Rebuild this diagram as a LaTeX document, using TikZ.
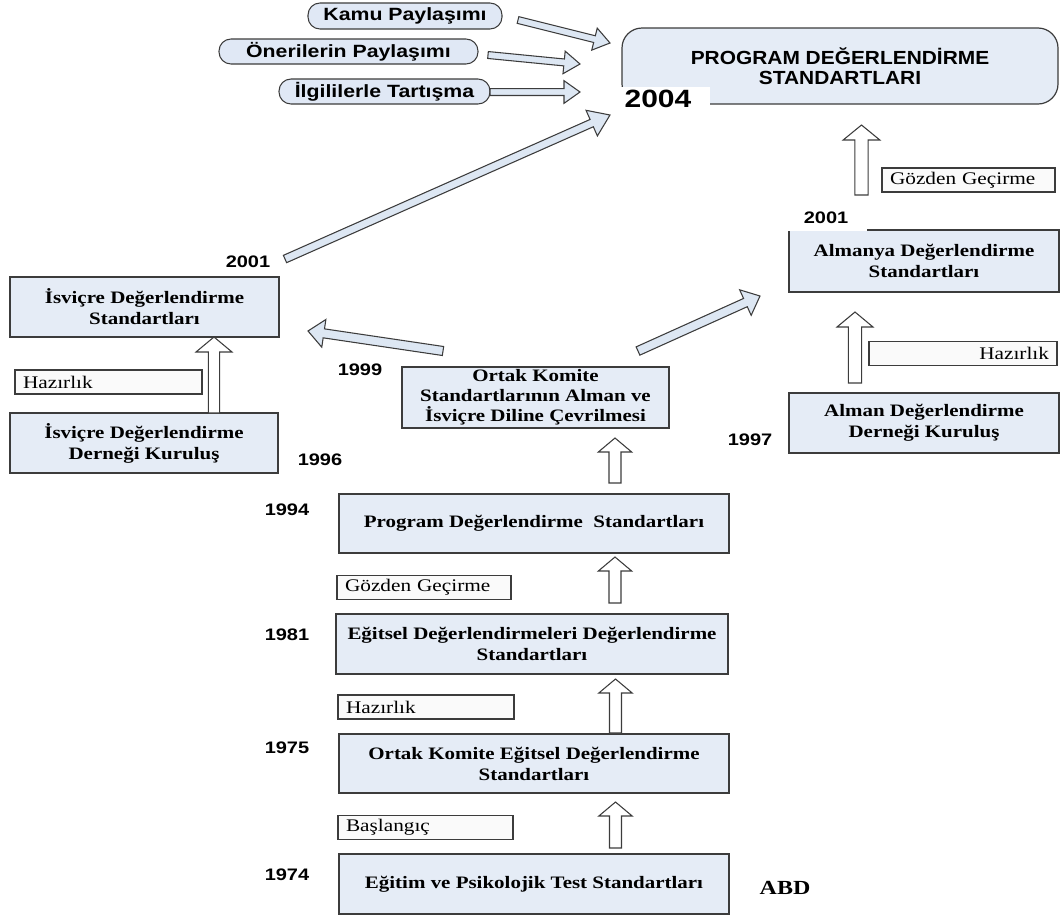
\documentclass[tikz,border=0pt]{standalone}
\usepackage{fontspec}
\setmainfont{Liberation Serif}[FakeStretch=1.2]
\newfontfamily\sansf{Liberation Sans}[FakeStretch=1.2]
\newfontfamily\titlef{Liberation Sans}[FakeStretch=1.1]
\usetikzlibrary{calc}
\definecolor{boxfill}{RGB}{229,236,246}
\definecolor{pillfill}{RGB}{224,232,245}
\definecolor{lblfill}{RGB}{250,250,250}
\definecolor{arrfill}{RGB}{221,231,243}
\definecolor{edge}{RGB}{60,60,60}
% #1 style, #2 tail, #3 tip, #4 shaft half width, #5 head half width, #6 head length
\newcommand\blockarrow[6]{%
  \path ($(#3)!#6!(#2)$) coordinate (ab);
  \filldraw[#1] ($(#2)!#4!90:(#3)$) -- ($(ab)!#4!90:(#3)$) -- ($(ab)!#5!90:(#3)$) -- (#3)
    -- ($(ab)!#5!-90:(#3)$) -- ($(ab)!#4!-90:(#3)$) -- ($(#2)!#4!-90:(#3)$) -- cycle;}
\begin{document}
\begin{tikzpicture}[x=0.75pt,y=-0.75pt,
  bx/.style={draw=edge, fill=boxfill, line width=0.9pt, inner sep=0pt, align=center,
    font=\bfseries\fontsize{13.1}{15.75}\selectfont},
  lbl/.style={draw=edge, fill=lblfill, line width=0.8pt, inner xsep=6pt, inner ysep=0pt,
    minimum height=18pt, font=\fontsize{13.3}{15}\selectfont},
  pill/.style={draw=edge, fill=pillfill, line width=0.8pt, rounded corners=9pt, inner sep=0pt,
    font=\sansf\bfseries\fontsize{13.3}{15}\selectfont},
  yr/.style={inner sep=0pt, font=\sansf\bfseries\fontsize{12.5}{14}\selectfont},
  varr/.style={draw=edge, fill=white, line width=0.8pt},
  darr/.style={draw=edge, fill=arrfill, line width=0.8pt}]
\useasboundingbox (0,0) rectangle (1060,918);

% ---- main (top right) box
\node[bx, rounded corners=15pt, minimum width=436*0.75pt, minimum height=76*0.75pt,
  font=\titlef\bfseries\fontsize{14.25}{15}\selectfont] (main) at (840,66)
  {PROGRAM DEĞERLENDİRME\\STANDARTLARI};
\fill[white] (612,87) rectangle (710,114);
\node[yr, font=\sansf\bfseries\fontsize{18.75}{20}\selectfont] (y2004) at (658,99) {2004};

% ---- pills
\node[pill, minimum width=194*0.75pt, minimum height=26*0.75pt] (kamu) at (405,16) {Kamu Paylaşımı};
\node[pill, minimum width=259*0.75pt, minimum height=25*0.75pt] (oneri) at (348.5,51.5) {Önerilerin Paylaşımı};
\node[pill, minimum width=211*0.75pt, minimum height=25*0.75pt] (ilgili) at (384.5,91.5) {İlgililerle Tartışma};

% ---- left column
\node[bx, minimum width=269*0.75pt, minimum height=60*0.75pt] (isvStd) at (144.5,307) {İsviçre Değerlendirme\\Standartları};
\node[bx, minimum width=268*0.75pt, minimum height=60*0.75pt] (isvDer) at (144,443) {İsviçre Değerlendirme\\Derneği Kuruluş};
\node[lbl, text width=128.25pt, align=left] (hazL) at (108.5,382) {Hazırlık};

% ---- centre column
\node[bx, minimum width=267*0.75pt, minimum height=61*0.75pt, font=\bfseries\fontsize{13.1}{15}\selectfont] (ortakCev) at (535.5,397.5)
  {Ortak Komite\\Standartlarının Alman ve\\İsviçre Diline Çevrilmesi};
\node[bx, minimum width=390*0.75pt, minimum height=59*0.75pt] (prog) at (534,523.5) {Program Değerlendirme\ \ Standartları};
\node[lbl, text width=118.5pt, align=left] (gozC) at (424,587.5) {Gözden Geçirme};
\node[bx, minimum width=392*0.75pt, minimum height=60*0.75pt] (egitsel) at (532,644) {Eğitsel Değerlendirmeleri Değerlendirme\\Standartları};
\node[lbl, text width=120pt, align=left] (hazC) at (426,707) {Hazırlık};
\node[bx, minimum width=390*0.75pt, minimum height=59*0.75pt] (ortakEg) at (534,763.5) {Ortak Komite Eğitsel Değerlendirme\\Standartları};
\node[lbl, text width=119.25pt, align=left] (basC) at (425.5,827.5) {Başlangıç};
\node[bx, minimum width=390*0.75pt, minimum height=60*0.75pt] (egitim) at (534,884) {Eğitim ve Psikolojik Test Standartları};
\node[inner sep=0pt, font=\bfseries\fontsize{15}{17}\selectfont] (abd) at (785,888) {ABD};

% ---- right column
\node[bx, minimum width=270*0.75pt, minimum height=62*0.75pt] (almanya) at (924,261) {Almanya Değerlendirme\\Standartları};
\fill[white] (787,200) rectangle (867,231.2);
\node[lbl, text width=117.75pt, align=left] (gozR) at (968.5,180) {Gözden Geçirme};
\node[lbl, text width=129pt, align=right] (hazR) at (963,353.5) {Hazırlık};
\node[bx, minimum width=270*0.75pt, minimum height=60*0.75pt] (almanDer) at (924,423) {Alman Değerlendirme\\Derneği Kuruluş};

% ---- years
\node[yr] (y2001L) at (248,262) {2001};
\node[yr] (y1999) at (360,370) {1999};
\node[yr] (y1996) at (320,460) {1996};
\node[yr] (y1994) at (287,510) {1994};
\node[yr] (y1981) at (287,635) {1981};
\node[yr] (y1975) at (287,748) {1975};
\node[yr] (y1974) at (287,875) {1974};
\node[yr] (y1997) at (750,440) {1997};
\node[yr] (y2001R) at (826,218) {2001};

% ---- arrow end points
\coordinate (a1t) at (615.5,848); \coordinate (a1h) at (615.5,802);
\coordinate (a2t) at (615.5,733); \coordinate (a2h) at (615.5,679);
\coordinate (a3t) at (615,603);   \coordinate (a3h) at (615,557);
\coordinate (a4t) at (615,483);   \coordinate (a4h) at (615,438);
\coordinate (a5t) at (214,413);   \coordinate (a5h) at (214,337);
\coordinate (a6t) at (855,383);   \coordinate (a6h) at (855,312);
\coordinate (a7t) at (861.5,195); \coordinate (a7h) at (861.5,125);
\coordinate (d1t) at (443,351);   \coordinate (d1h) at (308,331);
\coordinate (d2t) at (638,351);   \coordinate (d2h) at (760,296);
\coordinate (d3t) at (285,259);   \coordinate (d3h) at (610,115);
\coordinate (d4t) at (518,20);    \coordinate (d4h) at (610,43);
\coordinate (d5t) at (488,55);    \coordinate (d5h) at (580,64);
\coordinate (d6t) at (490,92);    \coordinate (d6h) at (580,92);

% ---- vertical block arrows
\blockarrow{varr}{a1t}{a1h}{4.5pt}{12.5pt}{10.5pt}
\blockarrow{varr}{a2t}{a2h}{4.5pt}{12.5pt}{10.5pt}
\blockarrow{varr}{a3t}{a3h}{4.5pt}{12.5pt}{10.5pt}
\blockarrow{varr}{a4t}{a4h}{4.5pt}{12.5pt}{10.5pt}
\blockarrow{varr}{a5t}{a5h}{4.2pt}{13.5pt}{11.25pt}
\blockarrow{varr}{a6t}{a6h}{5pt}{13.5pt}{11.25pt}
\blockarrow{varr}{a7t}{a7h}{5pt}{13.75pt}{11.25pt}

% ---- diagonal block arrows
\blockarrow{darr}{d1t}{d1h}{3.4pt}{10.5pt}{12pt}
\blockarrow{darr}{d2t}{d2h}{3.4pt}{10.5pt}{12pt}
\blockarrow{darr}{d3t}{d3h}{3pt}{10.5pt}{15pt}
\blockarrow{darr}{d4t}{d4h}{2.6pt}{8.5pt}{12pt}
\blockarrow{darr}{d5t}{d5h}{2.6pt}{8.5pt}{12pt}
\blockarrow{darr}{d6t}{d6h}{2.6pt}{8.5pt}{12pt}
\end{tikzpicture}
\end{document}
